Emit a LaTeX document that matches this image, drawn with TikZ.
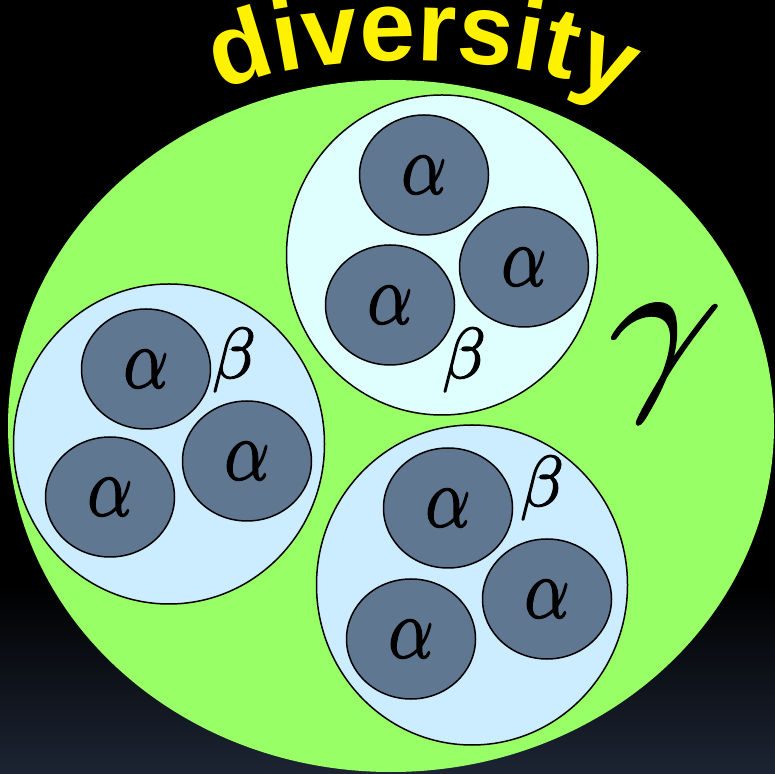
\documentclass[tikz,border=0pt]{standalone}
\usepackage{fix-cm}
\usepackage{fontspec}
\newfontfamily\arcfont{Liberation Sans}
\usetikzlibrary{shapes.geometric,decorations.text}
\definecolor{mygreen}{RGB}{153,255,102}
\definecolor{mycyan}{RGB}{223,255,255}
\definecolor{myblue}{RGB}{204,236,255}
\definecolor{myslate}{RGB}{96,119,145}
\definecolor{mynavy}{RGB}{28,36,51}
\tikzset{
  pool/.style={
    ellipse,
    draw,
    line width=1.5pt,
    fill=myblue,
    minimum width=311pt,
    minimum height=320pt,
  },
  site/.style={
    ellipse,
    draw,
    line width=1.5pt,
    fill=myslate,
    minimum width=129pt,
    minimum height=120pt,
    font=\fontsize{72pt}{80pt}\selectfont,
  },
  greek/.style={
    font=\fontsize{72pt}{80pt}\selectfont,
  }
}
% heavier glyphs: fill and stroke
\newcommand{\heavy}[2]{%
  \special{pdf:literal direct 2 Tr #1 w}#2\special{pdf:literal direct 0 Tr}%
}
\newcommand{\site}[3]{%
  \node[site] (#1) at (#2,#3) {\heavy{1.3}{\scalebox{1}[1.2]{$\alpha$}}};
}

\begin{document}
\begin{tikzpicture}[x=1pt,y=1pt]

\useasboundingbox (0,0) rectangle (775,773);
\fill[black] (0,0) rectangle (775,773);
\shade[bottom color=mynavy, top color=black] (0,0) rectangle (775,190);

\node[ellipse, fill=mygreen, minimum width=766pt, minimum height=692pt,
  inner sep=0pt] (region) at (391,347) {};

% top pool
\begin{scope}[shift={(442,518)}]
  \node[pool, fill=mycyan] (poolA) at (0,0) {};
  \site{aA1}{-18}{80}
  \site{aA2}{82}{-12}
  \site{aA3}{-52}{-50}
  \node[greek] (betaA) at (22,-105) {\heavy{1.3}{$\beta$}};
\end{scope}

% left pool
\begin{scope}[shift={(169,329)}]
  \node[pool] (poolB) at (0,0) {};
  \site{aB1}{-23}{75}
  \site{aB2}{78}{-17}
  \site{aB3}{-59}{-53}
  \node[greek] (betaB) at (65,84) {\heavy{1.3}{$\beta$}};
\end{scope}

% bottom pool
\begin{scope}[shift={(472,188)}]
  \node[pool] (poolC) at (0,0) {};
  \site{aC1}{-24}{77}
  \site{aC2}{75}{-14}
  \site{aC3}{-61}{-54}
  \node[greek] (betaC) at (70,97) {\heavy{1.3}{$\beta$}};
\end{scope}

\begin{scope}[shift={(653,410)}, xslant=0.3]
  \node[transform shape, font=\fontsize{185pt}{190pt}\selectfont] (gamma)
    at (0,0) {\heavy{2.5}{$\gamma$}};
\end{scope}

\coordinate (arcstart) at (205,673);
\coordinate (arcend) at (635,660);
\path[decorate, decoration={text along path, text align=center,
  text={|\arcfont\bfseries\fontsize{100pt}{102pt}\selectfont\color{yellow}|diversity}}]
  (arcstart) .. controls (280,726) and (560,728) .. (arcend);

\end{tikzpicture}
\end{document}
